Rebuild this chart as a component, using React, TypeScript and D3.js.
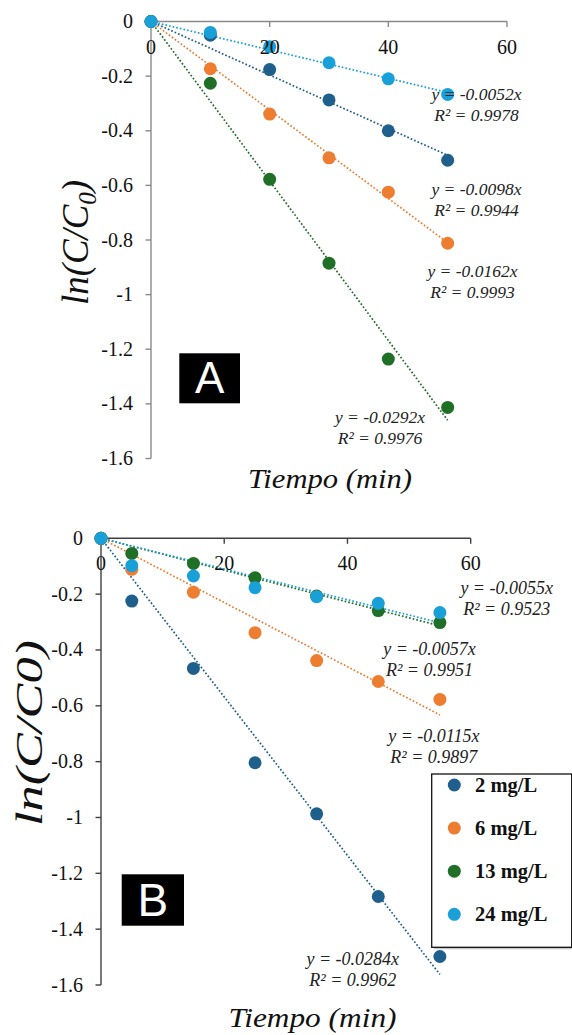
import React from "react";
import * as d3 from "d3";

// ---- Data ----
const seriesNames = ["2 mg/L", "6 mg/L", "13 mg/L", "24 mg/L"];
const seriesColors = ["#1f5f8c", "#ed7d31", "#1f6f27", "#19a0d8"];

const timesA = [0, 10, 20, 30, 40, 50];
const a2 = [0, -0.05, -0.176, -0.287, -0.4, -0.508];
const a6 = [0, -0.173, -0.339, -0.499, -0.625, -0.812];
const a13 = [0, -0.226, -0.578, -0.885, -1.236, -1.413];
const a24 = [0, -0.04, -0.092, -0.151, -0.21, -0.267];
const slopesA = [-0.0098, -0.0162, -0.0292, -0.0052];
const r2A = [0.9944, 0.9993, 0.9976, 0.9978];

const timesB = [0, 5, 15, 25, 35, 45, 55];
const b2 = [0, -0.225, -0.466, -0.804, -0.987, -1.283, -1.498];
const b6 = [0, -0.111, -0.193, -0.338, -0.438, -0.513, -0.577];
const b13 = [0, -0.054, -0.09, -0.141, -0.207, -0.259, -0.302];
const b24 = [0, -0.098, -0.135, -0.177, -0.209, -0.233, -0.266];
const slopesB = [-0.0284, -0.0115, -0.0057, -0.0055];
const r2B = [0.9962, 0.9897, 0.9951, 0.9523];

const xTicks = [0, 20, 40, 60];
const yTicks = [0, -0.2, -0.4, -0.6, -0.8, -1, -1.2, -1.4, -1.6];

const SERIF = "Liberation Serif";
const SANS = "Liberation Sans";

type Layout = {
  x0: number; x1: number; y0: number; y1: number;
  axisColor: string;
  eq: { cx: number; y: number; size: number }[];
  tag: string; tagRect: [number, number, number, number]; tagBase: number; tagSize: number;
  yLabel: { x: number; y: number; len: number; sub: boolean };
  xLabel: { x: number; y: number; len: number };
};

const layoutA: Layout = {
  x0: 151, x1: 507, y0: 21.5, y1: 458.5, axisColor: "#8a8a8a",
  eq: [
    { cx: 476.5, y: 195, size: 17.5 },
    { cx: 472.5, y: 277.3, size: 17.5 },
    { cx: 380, y: 422.7, size: 17.5 },
    { cx: 476.5, y: 100, size: 17.5 },
  ],
  tag: "A", tagRect: [179.3, 353.3, 60.7, 50], tagBase: 393.3, tagSize: 44,
  yLabel: { x: 88, y: 242.5, len: 125, sub: true },
  xLabel: { x: 330, y: 488, len: 164 },
};

const layoutB: Layout = {
  x0: 101, x1: 470.7, y0: 538.3, y1: 985, axisColor: "#404040",
  eq: [
    { cx: 352.8, y: 965, size: 18 },
    { cx: 433.8, y: 741.7, size: 18 },
    { cx: 429.5, y: 655, size: 18 },
    { cx: 506.7, y: 594, size: 18 },
  ],
  tag: "B", tagRect: [121.7, 874.3, 62.3, 51.4], tagBase: 915.7, tagSize: 46,
  yLabel: { x: 41.7, y: 733, len: 186, sub: false },
  xLabel: { x: 312.5, y: 1027, len: 168 },
};

const fmtTick = (v: number) => (v === 0 ? "0" : String(+v.toFixed(1)));

function Panel({ times, series, slopes, r2, L }: {
  times: number[]; series: number[][]; slopes: number[]; r2: number[]; L: Layout;
}) {
  const x = d3.scaleLinear().domain([0, 60]).range([L.x0, L.x1]);
  const y = d3.scaleLinear().domain([0, -1.6]).range([L.y0, L.y1]);
  const xEnd = d3.max(times) as number;
  return (
    <g>
      {/* axes */}
      <line x1={x(0)} x2={x(60)} y1={y(0)} y2={y(0)} stroke={L.axisColor} strokeWidth={1.4} />
      <line x1={x(0)} x2={x(0)} y1={y(0)} y2={y(-1.6)} stroke={L.axisColor} strokeWidth={1.4} />
      {xTicks.map((t) => (
        <line key={"xt" + t} x1={x(t)} x2={x(t)} y1={y(0)} y2={y(0) + 5.5} stroke={L.axisColor} strokeWidth={1.4} />
      ))}
      {yTicks.map((t) => (
        <line key={"yt" + t} x1={x(0) - 5.5} x2={x(0)} y1={y(t)} y2={y(t)} stroke={L.axisColor} strokeWidth={1.4} />
      ))}
      {/* trendlines */}
      {slopes.map((s, i) => (
        <line key={"tl" + i} x1={x(0)} y1={y(0)} x2={x(xEnd)} y2={y(s * xEnd)}
          stroke={seriesColors[i]} strokeWidth={1.7} strokeDasharray="1.7 2" />
      ))}
      {/* points */}
      {series.map((vals, i) => (
        <g key={"s" + i}>
          {vals.map((v, j) => (
            <circle key={j} cx={x(times[j])} cy={y(v)} r={6.5} fill={seriesColors[i]} />
          ))}
        </g>
      ))}
      {/* tick labels */}
      {xTicks.map((t) => (
        <text key={"xl" + t} x={x(t)} y={y(0) + 32} textAnchor="middle" fontFamily={SERIF} fontSize={20} fill="#111">
          {t}
        </text>
      ))}
      {yTicks.map((t) => (
        <text key={"yl" + t} x={x(0) - 18} y={y(t) + 6.5} textAnchor="end" fontFamily={SERIF} fontSize={20} fill="#111">
          {fmtTick(t)}
        </text>
      ))}
      {/* equations */}
      {slopes.map((s, i) => (
        <g key={"eq" + i} fontFamily={SERIF} fontStyle="italic" fontSize={L.eq[i].size} fill="#222" textAnchor="middle">
          <text x={L.eq[i].cx} y={L.eq[i].y}>{`y = ${s.toFixed(4)}x`}</text>
          <text x={L.eq[i].cx} y={L.eq[i].y + 20.8}>{`R² = ${r2[i].toFixed(4)}`}</text>
        </g>
      ))}
      {/* panel tag */}
      <rect x={L.tagRect[0]} y={L.tagRect[1]} width={L.tagRect[2]} height={L.tagRect[3]} fill="#000" />
      <text x={L.tagRect[0] + L.tagRect[2] / 2} y={L.tagBase} textAnchor="middle" fontFamily={SANS} fontSize={L.tagSize} fill="#fff">
        {L.tag}
      </text>
      {/* axis titles */}
      <text transform={`translate(${L.yLabel.x},${L.yLabel.y}) rotate(-90)`} textAnchor="middle"
        fontFamily={SERIF} fontStyle="italic" fontSize={37} fill="#111"
        textLength={L.yLabel.len} lengthAdjust="spacingAndGlyphs">
        {L.yLabel.sub ? (
          <>
            ln(C/C<tspan fontSize={25} dy={8}>0</tspan><tspan dy={-8}>)</tspan>
          </>
        ) : (
          "ln(C/C0)"
        )}
      </text>
      <text x={L.xLabel.x} y={L.xLabel.y} textAnchor="middle" fontFamily={SERIF} fontStyle="italic" fontSize={28}
        fill="#111" textLength={L.xLabel.len} lengthAdjust="spacingAndGlyphs">
        Tiempo (min)
      </text>
    </g>
  );
}

function Legend() {
  const left = 431.7, top = 774, w = 140, h = 173.3;
  const rowY = d3.scaleLinear().domain([0, 3]).range([785, 914.3]);
  return (
    <g>
      <rect x={left + 2} y={top + 2} width={w} height={h} fill="#c8c8c8" />
      <rect x={left} y={top} width={w} height={h} fill="#fff" stroke="#111" strokeWidth={1.3} />
      {seriesNames.map((n, i) => (
        <g key={n}>
          <circle cx={454.3} cy={rowY(i)} r={6.5} fill={seriesColors[i]} />
          <text x={475} y={rowY(i) + 7} fontFamily={SERIF} fontWeight="bold" fontSize={20.5} fill="#111">{n}</text>
        </g>
      ))}
    </g>
  );
}

export default function App() {
  return (
    <svg width={572} height={1035} style={{ position: "absolute", left: 0, top: 0, background: "#fff" }}>
      <rect width={572} height={1035} fill="#fff" />
      <Panel times={timesA} series={[a2, a6, a13, a24]} slopes={slopesA} r2={r2A} L={layoutA} />
      <Panel times={timesB} series={[b2, b6, b13, b24]} slopes={slopesB} r2={r2B} L={layoutB} />
      <Legend />
    </svg>
  );
}
